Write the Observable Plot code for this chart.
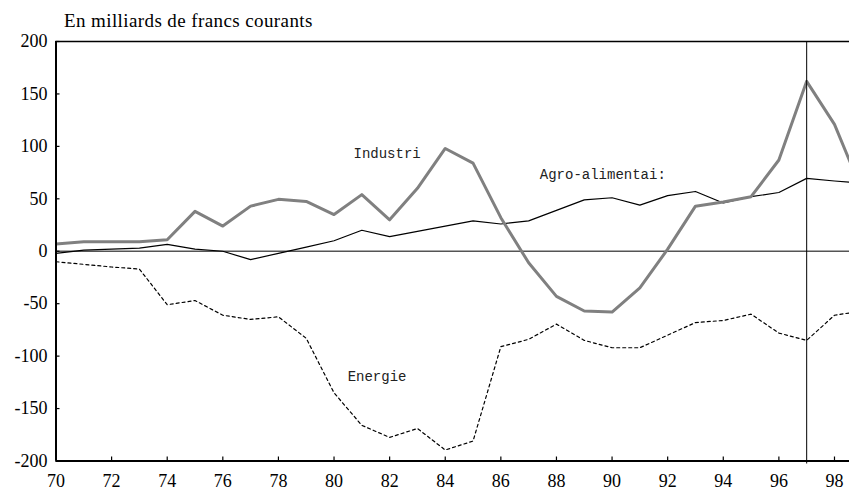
<!DOCTYPE html>
<html>
<head>
<meta charset="utf-8">
<script src="https://cdn.jsdelivr.net/npm/d3@7"></script>
<script src="https://cdn.jsdelivr.net/npm/@observablehq/plot@0.6"></script>
<style>
  html, body { margin: 0; padding: 0; background: #fff; }
  #title { height: 19px; padding-top: 11px; padding-left: 64px; font: 19px "Liberation Serif", serif; letter-spacing: 0.4px; line-height: 19px; color: #000; white-space: nowrap; }
  #chart svg { display: block; }
</style>
</head>
<body>
<div id="title">En milliards de francs courants</div>
<div id="chart"></div>
<script>
const years = [70,71,72,73,74,75,76,77,78,79,80,81,82,83,84,85,86,87,88,89,90,91,92,93,94,95,96,97,98,99];
const industrie = [7,9,9,9,11,38,24,43,49.5,47.5,35,54,30,60,98,84,32,-11,-43,-57,-58,-35,2,43,47,52,87,162,121,57];
const agro = [-2,1,2,3,6.5,2,0,-8,-2,4,10,20,14,19,24,29,26,29,39,49,51,44,53,57,46,52,56,69.5,67,65];
const energie = [-10,-12.5,-15,-17,-51,-47,-61,-65,-62.5,-83,-135,-166,-177.5,-169,-189.5,-181,-91,-84,-69.5,-85,-92,-92,-80,-68,-66,-60,-78,-85,-61,-57];
const xTicks = [70,72,74,76,78,80,82,84,86,88,90,92,94,96,98];
const yTicks = [-200,-150,-100,-50,0,50,100,150,200];
const labels = [
  {year: 80.7, value: 93, text: "Industri"},
  {year: 87.4, value: 73, text: "Agro-alimentai:"},
  {year: 80.49, value: -119, text: "Energie"}
];
const markYear = 97;

const rows = (vals) => years.map((y, i) => ({year: y, value: vals[i]}));

const chart = Plot.plot({
  width: 849,
  height: 462,
  marginTop: 11,
  marginBottom: 31.5,
  marginLeft: 55.5,
  marginRight: 0,
  x: {domain: [70, 98.54]},
  y: {domain: [-200, 200]},
  style: {fontFamily: "'Liberation Serif', serif", fontSize: "18px", color: "#000", background: "#fff"},
  marks: [
    Plot.ruleY([0], {stroke: "#555", strokeWidth: 1.5}),
    Plot.line(rows(energie), {x: "year", y: "value", stroke: "#000", strokeWidth: 1.2, strokeDasharray: "3,3", clip: true}),
    Plot.line(rows(agro), {x: "year", y: "value", stroke: "#000", strokeWidth: 1.2, clip: true}),
    Plot.line(rows(industrie), {x: "year", y: "value", stroke: "#808080", strokeWidth: 3, clip: true}),
    Plot.ruleX([markYear], {stroke: "#000", strokeWidth: 1, insetBottom: -3}),
    Plot.ruleY([200], {stroke: "#000", strokeWidth: 1.5}),
    Plot.ruleY([-200], {stroke: "#000", strokeWidth: 2}),
    Plot.ruleX([70], {stroke: "#000", strokeWidth: 2}),
    Plot.axisX({ticks: xTicks, tickSize: 4, dy: -4, tickFormat: () => "", label: null, stroke: "#000", strokeWidth: 1.2}),
    Plot.axisX({ticks: xTicks, tickSize: 0, tickPadding: 13, tickFormat: d => String(d), label: null, fontSize: 18}),
    Plot.axisY({ticks: yTicks, tickSize: 4, dx: 4, tickFormat: () => "", label: null, stroke: "#000", strokeWidth: 1.2}),
    Plot.axisY({ticks: yTicks, tickSize: 0, tickPadding: 8.5, tickFormat: d => String(d), label: null, fontSize: 18}),
    Plot.text(labels, {x: "year", y: "value", text: "text", textAnchor: "start", fontFamily: "'Liberation Mono', monospace", fontSize: 14, fill: "#222"})
  ]
});
document.getElementById("chart").appendChild(chart);
</script>
</body>
</html>
